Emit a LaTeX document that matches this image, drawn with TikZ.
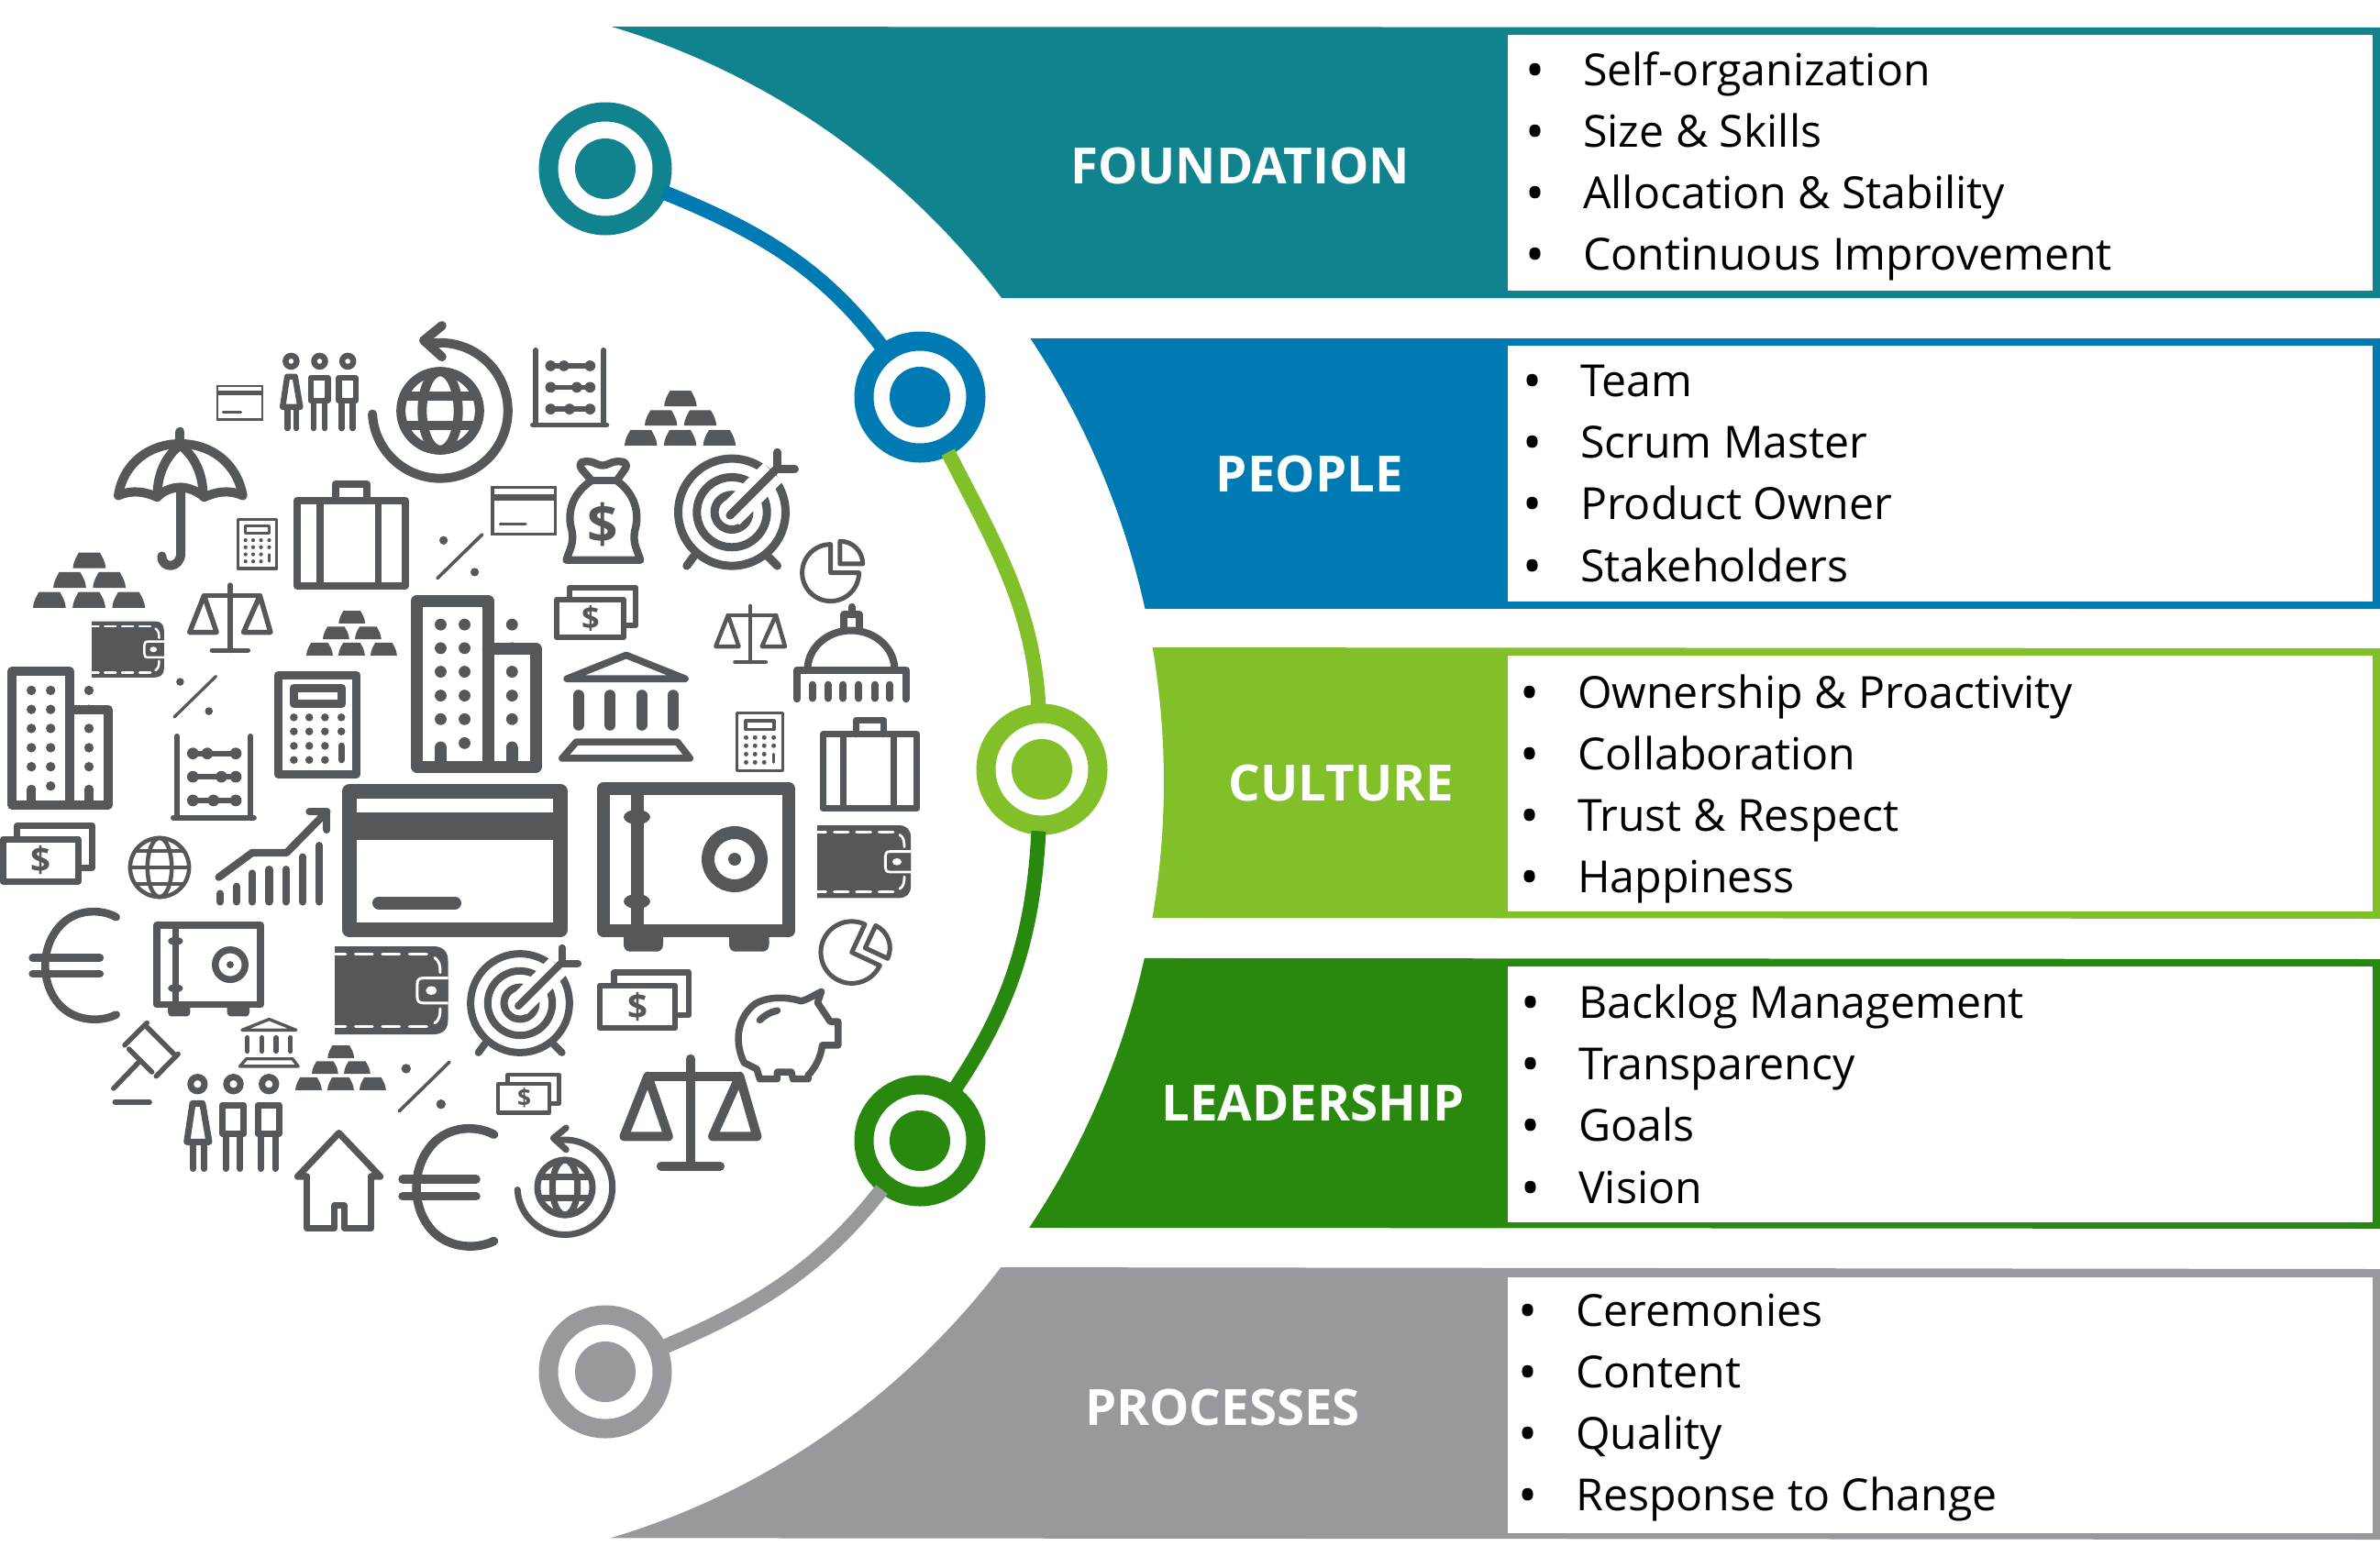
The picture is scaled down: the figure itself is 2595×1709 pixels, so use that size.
\documentclass[tikz,border=0pt]{standalone}
\usepackage{fontspec}
\setmainfont{Open Sans}
\usetikzlibrary{positioning,calc}
\definecolor{fndcol}{HTML}{10838F}
\definecolor{pplcol}{HTML}{007AB2}
\definecolor{culcol}{HTML}{82C029}
\definecolor{ledcol}{HTML}{29890E}
\definecolor{prccol}{HTML}{98999C}
\definecolor{iconcol}{HTML}{54585A}
\newcommand{\bandshape}[5]{\fill[#1] ([shift={(#2:835 and 858)}]hub) arc[start angle=#2,end angle=#3,x radius=835,y radius=858] -- (2595,#4) -- (2595,#5) -- cycle;}
\newcommand{\entry}[1]{\makebox[59pt][l]{\hspace{-4pt}\raisebox{-3pt}{\fontsize{56}{56}\selectfont\textbullet}}#1}
\tikzset{
  icon/.style={draw=iconcol,line cap=round,line join=round},
  iconfill/.style={fill=iconcol},
  card/.pic={
    \draw[icon,line cap=butt,line join=miter] (3,3) rectangle (140,105);
    \draw[icon,line cap=butt,line width=1.4\pgflinewidth] (3,25) -- (140,25);
    \draw[icon] (20,83) -- (75,83);
  },
  cardbold/.pic={
    \draw[icon,line cap=butt] (8,8) rectangle (238,159);
    \fill[iconfill] (8,31) rectangle (238,61);
    \draw[icon,line width=14] (40,129.6) -- (123,129.6);
  },
  people/.pic={
    \foreach \hx in {32,119,205} \draw[icon] (\hx,25) circle (17);
    \draw[icon] (20,72) -- (44,72) -- (60,165) -- (6,165) -- cycle;
    \draw[icon] (21,165) -- (21,230) (48,165) -- (48,230);
    \draw[icon] (92,76) rectangle (144,145) (100,145) -- (100,230) (135,145) -- (135,230);
    \draw[icon] (178,76) rectangle (229,145) (186,145) -- (186,230) (220,145) -- (220,230);
  },
  globearrow/.pic={
    \draw[icon] (0,0) circle (120);
    \draw[icon] (0,0) ellipse [x radius=55,y radius=120];
    \draw[icon,line cap=butt] (-118,-45) -- (118,-45) (-118,45) -- (118,45);
    \draw[icon] (-207,10) arc[start angle=177,end angle=-100,radius=207] -- (-50,-215);
    \draw[icon] (5,-260) -- (-50,-215) -- (5,-165);
  },
  globe/.pic={
    \draw[icon] (0,0) circle (90);
    \draw[icon] (0,0) ellipse [x radius=37,y radius=90];
    \draw[icon,line cap=butt] (-90,0) -- (90,0) (-75,-50) -- (75,-50) (-75,50) -- (75,50);
  },
  umbrella/.pic={
    \draw[icon] (203,5) -- (203,42);
    \draw[icon] (14,200) .. controls (30,100) and (110,42) .. (203,42) .. controls (296,42) and (376,100) .. (394,200)
      .. controls (350,180) and (310,190) .. (276,205) .. controls (255,185) and (225,175) .. (203,175)
      .. controls (180,175) and (150,185) .. (133,205) .. controls (100,190) and (60,180) .. (14,200) -- cycle;
    \draw[icon] (203,45) .. controls (160,80) and (135,130) .. (133,195);
    \draw[icon] (203,45) .. controls (246,80) and (271,130) .. (273,195);
    \draw[icon] (205,175) -- (205,375) .. controls (205,425) and (145,425) .. (147,385);
  },
  calc/.pic={
    \draw[icon] (12,12) rectangle (252,314);
    \draw[icon] (59,52) rectangle (207,99);
    \foreach \dx in {60,107,155,205} \foreach \dy in {141,184} \fill[iconfill] (\dx,\dy) circle (12);
    \foreach \dx in {60,107,155} \foreach \dy in {228,271} \fill[iconfill] (\dx,\dy) circle (12);
    \draw[icon,line width=.9\pgflinewidth] (205,228) -- (205,271);
  },
  briefcase/.pic={
    \draw[icon] (11,61) rectangle (341,322);
    \draw[icon] (128,61) -- (128,10) -- (224,10) -- (224,61);
    \draw[icon,line cap=butt] (82,61) -- (82,322) (259,61) -- (259,322);
  },
  percent/.pic={
    \draw[icon] (8,142) -- (145,8);
    \fill[iconfill] (27,26) circle (13) (122,123) circle (13);
  },
  gold/.pic={
    \foreach \bx/\by in {122/0,62/60,183/60,0/121,121/121,242/121}
      \fill[iconfill,shift={(\bx,\by)}] (0,48) .. controls (2,25) and (10,15) .. (18,0) -- (82,0) .. controls (90,15) and (98,25) .. (100,48) -- cycle;
  },
  balance/.pic={
    \draw[icon] (223,5) -- (223,345) (130,344) -- (316,344);
    \draw[icon] (88,60) -- (378,60);
    \draw[icon] (88,60) -- (13,250) -- (153,250) -- cycle;
    \draw[icon] (378,60) -- (293,250) -- (433,250) -- cycle;
  },
  wallet/.pic={
    \fill[iconfill] (0,0) -- (300,0) .. controls (330,0) and (346,15) .. (346,45) -- (346,224) .. controls (346,254) and (330,269) .. (300,269) -- (0,269) -- cycle;
    \foreach \wa/\wb in {0/33,63/115,145/198,228/281}
      \draw[draw=white,line cap=round] (\wa,25) -- (\wb,25) (\wa,245) -- (\wb,245);
    \draw[draw=white,line cap=round] (305,35) .. controls (320,45) and (322,60) .. (322,80) (322,190) .. controls (322,210) and (320,225) .. (305,235);
    \draw[draw=white,fill=iconcol] (346,97) -- (270,97) .. controls (255,97) and (252,105) .. (252,115) -- (252,155) .. controls (252,165) and (255,173) .. (270,173) -- (346,173);
    \fill[white] (295,135) ellipse [x radius=17,y radius=13];
  },
  building/.pic={
    \draw[icon] (18,18) rectangle (236,524);
    \draw[icon] (236,163) -- (381,163) -- (381,524) -- (236,524);
    \foreach \wy in {90,162,234,307,379} {
      \fill[iconfill] (91,\wy) circle (18) (164,\wy) circle (18) (309,\wy) circle (18);
    }
    \fill[iconfill] (164,452) circle (18);
    \draw[icon,line cap=butt] (91,524) -- (91,465) (309,524) -- (309,465);
    \fill[iconfill] (91,465) circle (18) (309,465) circle (18);
  },
  abacus/.pic={
    \draw[icon] (18,8) -- (18,245) (233,8) -- (233,245) (8,245) -- (243,245);
    \foreach \ry/\rb in {58/107,126/148,195/125} {
      \draw[icon] (65,\ry) -- (190,\ry);
      \fill[iconfill] (65,\ry) circle (17) (\rb,\ry) circle (17) (190,\ry) circle (17);
    }
  },
  moneybag/.pic={
    \draw[icon] (10,322) -- (245,322) .. controls (235,290) and (220,270) .. (227,230) .. controls (245,170) and (225,110) .. (170,70)
      -- (195,35) .. controls (210,12) and (190,8) .. (165,10) .. controls (150,12) and (140,22) .. (125,22) .. controls (110,22) and (100,12) .. (85,10) .. controls (60,8) and (45,12) .. (60,35)
      -- (90,70) .. controls (30,110) and (10,170) .. (28,230) .. controls (35,270) and (20,290) .. (10,322) -- cycle;
    \draw[icon] (90,70) -- (170,70);
    \node[transform shape,text=iconcol,inner sep=0,font=\fontsize{170}{170}\selectfont\bfseries] (sign) at (125,208) {\$};
  },
  target/.pic={
    \draw[icon] (0,0) circle (170) (0,0) circle (111) (0,0) circle (55);
    \draw[draw=white,line width=1.8\pgflinewidth] (-6,10) -- (130,-126);
    \draw[icon] (-6,10) -- (144,-140);
    \draw[icon] (144,-190) -- (144,-137) -- (199,-137);
    \draw[icon] (-143,170) -- (-121,140) (144,170) -- (114,140);
  },
  pie/.pic={
    \draw[icon] (0,-90) arc[start angle=-90,end angle=-360,radius=90] -- (0,0) -- cycle;
    \draw[icon] (30,-100) arc[start angle=-90,end angle=0,radius=72] -- (30,-28) -- cycle;
  },
  money/.pic={
    \draw[icon] (48,38) -- (48,8) -- (260,8) -- (260,128) -- (228,128);
    \draw[icon] (8,46) rectangle (221,165);
    \node[transform shape,text=iconcol,inner sep=0,font=\fontsize{100}{100}\selectfont\bfseries] (sign) at (116,105) {\$};
  },
  dome/.pic={
    \draw[icon] (12,300) -- (12,208) -- (357,208) -- (357,300);
    \foreach \cx in {60,110,158,207,258,305} \draw[icon] (\cx,255) -- (\cx,298);
    \draw[icon] (45,208) arc[start angle=180,end angle=360,x radius=138,y radius=125];
    \draw[icon] (160,83) -- (160,33) -- (210,33) -- (210,83);
    \draw[icon] (185,8) -- (185,30);
  },
  bank/.pic={
    \draw[icon] (25,85) -- (213,10) -- (400,85) -- cycle;
    \foreach \cx in {62,162,262,362} \draw[icon,line width=1.25\pgflinewidth] (\cx,137) -- (\cx,232);
    \draw[icon] (55,285) -- (375,285) -- (415,337) -- (10,337) -- cycle;
  },
  safe/.pic={
    \draw[icon] (7,7) rectangle (209,162);
    \draw[icon,line cap=butt] (43.5,7) -- (43.5,162);
    \fill[iconfill] (43.5,38) ellipse [x radius=14.5,y radius=8] (43.5,130) ellipse [x radius=14.5,y radius=8];
    \draw[icon] (150,84) circle (29);
    \fill[iconfill] (150,84) circle (7);
    \fill[iconfill] (29,165) rectangle (72,177) (144,165) rectangle (187.5,177);
    \fill[iconfill] (35,177) ellipse [x radius=6,y radius=7.5] (66,177) ellipse [x radius=6,y radius=7.5] (150,177) ellipse [x radius=6,y radius=7.5] (181.5,177) ellipse [x radius=6,y radius=7.5];
    \fill[iconfill] (35,170) rectangle (66,184.5) (150,170) rectangle (181.5,184.5);
  },
  chart/.pic={
    \foreach \bx/\bt in {14/262,64/240,112/200,164/188,215/188,266/150,317/115} \draw[icon] (\bx,\bt) -- (\bx,287);
    \draw[icon] (10,212) -- (112,137) -- (217,137) -- (340,12);
    \draw[icon] (287,12) -- (340,12) -- (340,67);
  },
  euro/.pic={
    \draw[icon] (268,34) .. controls (215,5) and (130,10) .. (85,75) .. controls (40,135) and (40,230) .. (85,290) .. controls (130,352) and (215,358) .. (268,332);
    \draw[icon] (13,159) -- (218,159) (13,207) -- (218,207);
  },
  gavel/.pic={
    \draw[icon] (42,75) -- (110,7) (110,20) -- (192,102) (205,102) -- (138,170) (125,157) -- (55,87);
    \draw[icon] (8,207) -- (90,122);
    \draw[icon] (12,249) -- (118,249);
  },
  piggy/.pic={
    \draw[icon] (207,40) .. controls (230,35) and (250,20) .. (272,10) -- (260,45) -- (300,105) -- (325,105) -- (325,180) -- (275,180)
      .. controls (270,220) and (250,255) .. (230,275) -- (230,287) -- (182,287) -- (177,265) -- (132,265) -- (132,287) -- (77,287) -- (67,255) -- (27,235)
      .. controls (0,180) and (-2,100) .. (60,50) .. controls (100,25) and (160,25) .. (207,40) -- cycle;
    \draw[icon] (77,100) .. controls (92,85) and (110,75) .. (132,70);
  },
  house/.pic={
    \draw[icon] (38,143) -- (10,143) -- (136,10) -- (262,143) -- (234,143);
    \draw[icon] (38,143) -- (38,300) -- (122,300) -- (122,232) -- (152,232) -- (152,300) -- (234,300) -- (234,143);
  }
}
\begin{document}
\begin{tikzpicture}[x=1pt,y=-1pt,
    ring/.style={circle,draw=#1,fill=white,line width=21,minimum size=124,inner sep=0},
    hubdot/.style={circle,fill=#1,minimum size=66,inner sep=0},
    link/.style={line width=16,shorten <=-4,shorten >=-4,looseness=.95},
    bandlabel/.style={text=white,inner sep=0,font=\fontsize{54.6}{60}\selectfont\bfseries},
    listbox/.style={fill=white,anchor=north west,minimum width=943,minimum height=279,inner sep=0},
    listtext/.style={anchor=west,align=left,inner sep=0,font=\fontsize{48.25}{67.2}\selectfont}]
  \useasboundingbox (0,0) rectangle (2595,1709);
  \coordinate (hub) at (434,853);

  % Bands
  \bandshape{fndcol}{-37.98}{-73.8}{30}{325}
  \bandshape{pplcol}{-12.73}{-34.34}{369}{664}
  \bandshape{culcol}{9.93}{-9.86}{707}{1002}
  \bandshape{ledcol}{34.5}{12.93}{1046}{1340}
  \bandshape{prccol}{73.9}{38.07}{1384}{1679}

  % Band labels
  \node[bandlabel] (fndlabel) at (1352,181) {FOUNDATION};
  \node[bandlabel] (ppllabel) at (1428,517) {PEOPLE};
  \node[bandlabel] (cullabel) at (1462.5,854) {CULTURE};
  \node[bandlabel] (ledlabel) at (1431.5,1203) {LEADERSHIP};
  \node[bandlabel] (prclabel) at (1333,1535) {PROCESSES};

  % Lists
  \node[listbox] (fndbox) at (1644,38) {};
  \node[listbox] (pplbox) at (1644,376.5) {};
  \node[listbox] (culbox) at (1644,715) {};
  \node[listbox] (ledbox) at (1644,1054) {};
  \node[listbox] (prcbox) at (1644,1393) {};
  \node[listtext] (fndlist) at (1667,181.5) {\entry{Self-organization}\\\entry{Size \& Skills}\\\entry{Allocation \& Stability}\\\entry{Continuous Improvement}};
  \node[listtext] (ppllist) at (1664,517.5) {\entry{Team}\\\entry{Scrum Master}\\\entry{Product Owner}\\\entry{Stakeholders}};
  \node[listtext] (cullist) at (1661,860.5) {\entry{Ownership \& Proactivity}\\\entry{Collaboration}\\\entry{Trust \& Respect}\\\entry{Happiness}};
  \node[listtext] (ledlist) at (1662,1194.5) {\entry{Backlog Management}\\\entry{Transparency}\\\entry{Goals}\\\entry{Vision}};
  \node[listtext] (prclist) at (1659,1535) {\entry{Ceremonies}\\\entry{Content}\\\entry{Quality}\\\entry{Response to Change}};

  % Rings
  \node[ring=fndcol] (fndring) at (660,184) {};
  \node[ring=pplcol,minimum size=122] (pplring) at (1003,433) {};
  \node[ring=culcol,minimum size=122] (culring) at (1136,839) {};
  \node[ring=ledcol,minimum size=122] (ledring) at (1003,1244) {};
  \node[ring=prccol] (prcring) at (660,1496) {};
  \node[hubdot=fndcol] (fnddot) at (fndring) {};
  \node[hubdot=pplcol] (ppldot) at (pplring) {};
  \node[hubdot=culcol] (culdot) at (culring) {};
  \node[hubdot=ledcol] (leddot) at (ledring) {};
  \node[hubdot=prccol] (prcdot) at (prcring) {};

  % Links between the rings
  \path[link]
    (fndring) edge[pplcol, out=-22, in=127] (pplring)
    (pplring) edge[culcol, out=-63, in=93] (culring)
    (culring) edge[ledcol, out=-93, in=56] (ledring)
    (ledring) edge[prccol, out=232, in=23] (prcring);

  % Icons, upper part
  \pic[scale=.357,line width=2.5] (cardA) at (236,420) {card};
  \pic[scale=.357,line width=6.4] (peopleA) at (306,385) {people};
  \pic[scale=.357,line width=10] (globeA) at (480,448) {globearrow};
  \pic[scale=.357,line width=10] (umbrellaA) at (124,469) {umbrella};
  \pic[scale=.178,line width=3.2] (calcA) at (257,564) {calc};
  \pic[scale=.357,line width=7.9] (caseA) at (320,524) {briefcase};
  \pic[scale=.357,line width=3.6] (pctA) at (474,580) {percent};
  \pic[scale=.357] (goldA) at (36,602.5) {gold};
  \pic[scale=.21,line width=5.5] (balA) at (204,637) {balance};
  \pic[scale=.289] (goldB) at (334,666) {gold};
  \pic[scale=.228,line width=2.5] (walletA) at (100,677.5) {wallet};
  \pic[scale=.33,line width=3.3] (pctB) at (187.5,735) {percent};
  \pic[scale=.288,line width=10] (bldA) at (8,727) {building};
  \pic[scale=.357,line width=9] (calcB) at (299,732) {calc};
  \pic[scale=.357,line width=13] (bldB) at (448,649) {building};
  \pic[scale=.374,line width=6] (abaA) at (186,800) {abacus};
  \pic[scale=.344,line width=5.5] (abaB) at (578,379) {abacus};
  \pic[scale=.354] (goldC) at (681,426) {gold};
  \pic[scale=.344,line width=8.3] (bagA) at (614,500) {moneybag};
  \pic[scale=.5,line width=3.2] (cardB) at (535.5,530) {card};
  \pic[scale=.344,line width=9] (tgtA) at (798,558.6) {target};
  \pic[scale=.344,line width=5] (pieA) at (905.6,624.6) {pie};
  \pic[scale=.344,line width=6] (monA) at (604,638) {money};
  \pic[scale=.18,line width=4.5] (balB) at (778,660) {balance};
  \pic[scale=.344,line width=8] (domeA) at (865,659) {dome};
  \pic[scale=.344,line width=7.6] (bankA) at (609.5,711) {bank};
  \pic[scale=.208,line width=3.6] (calcC) at (801,775) {calc};
  \pic[scale=.31,line width=6.9] (caseB) at (894,782) {briefcase};

  % Icons, lower part
  \pic[line width=16] (cardC) at (373,855) {cardbold};
  \pic[line width=14] (safeA) at (651,853) {safe};
  \pic[scale=.385,line width=7] (monB) at (0,897.5) {money};
  \pic[scale=.357,line width=4.5] (globeB) at (174,946) {globe};
  \pic[scale=.357,line width=8.2] (chartA) at (235,881) {chart};
  \pic[scale=.357,line width=8.6] (euroA) at (31,988) {euro};
  \pic[scale=.56,line width=7.5] (safeB) at (167,1005) {safe};
  \pic[scale=.357,line width=3] (walletB) at (365,1032) {wallet};
  \pic[scale=.317,line width=8] (tgtB) at (567,1094) {target};
  \pic[scale=.357,line width=5.5] (gavelA) at (121,1113) {gavel};
  \pic[scale=.157,line width=3.4] (bankB) at (260,1110) {bank};
  \pic[scale=.289] (goldD) at (322,1140) {gold};
  \pic[scale=.4,line width=3.6] (pctC) at (432,1155) {percent};
  \pic[scale=.45,line width=7] (peopleB) at (201,1171) {people};
  \pic[scale=.357,line width=7.2] (houseA) at (321,1232) {house};
  \pic[scale=.39,line width=9.5] (euroB) at (434,1224) {euro};
  \pic[scale=.295,line width=2.8] (walletC) at (891,900) {wallet};
  \pic[scale=.375,line width=5,rotate=-25] (pieB) at (928.7,1038.6) {pie};
  \pic[scale=.385,line width=6.5] (monC) at (651,1057.5) {money};
  \pic[scale=.344,line width=7.5] (pigA) at (802,1078) {piggy};
  \pic[scale=.263,line width=4.5] (monD) at (541,1170) {money};
  \pic[scale=.345,line width=10] (balC) at (676,1153) {balance};
  \pic[scale=.25,line width=7] (globeC) at (616,1295) {globearrow};
\end{tikzpicture}
\end{document}
